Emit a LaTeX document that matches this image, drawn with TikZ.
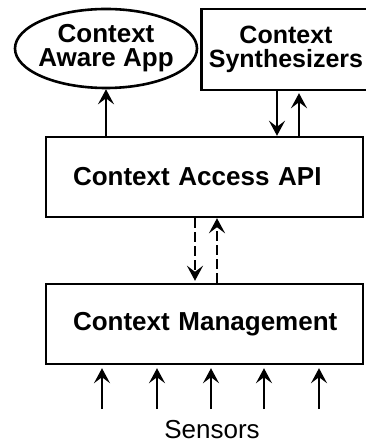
\documentclass[tikz,border=0pt]{standalone}
\usepackage{fontspec}
\setmainfont{Liberation Sans}
\usetikzlibrary{positioning}
\usetikzlibrary{calc}
\usetikzlibrary{arrows.meta}
\usetikzlibrary{shapes}

\begin{document}
\begin{tikzpicture}[x=1pt,y=1pt,node distance=147pt,on grid,>={Stealth[length=15pt,width=16pt,inset=6pt]},
		layer/.style={rectangle,draw=black,line width=2.4pt,minimum width=317pt,minimum height=80pt,inner xsep=27pt,text width=263pt,align=left,font=\fontsize{26}{24}\selectfont\bfseries},
		app/.style={ellipse,draw=black,line width=2.6pt,minimum width=182pt,minimum height=79pt,inner xsep=-4pt,inner ysep=0pt,align=center,font=\fontsize{26}{24}\selectfont\bfseries},
		synth/.style={rectangle,draw=black,line width=2.4pt,minimum width=169pt,minimum height=81pt,inner sep=0pt,align=center,font=\fontsize{25}{24}\selectfont\bfseries},
		flow/.style={->,line width=2.4pt},
		query/.style={->,line width=2.4pt,dash pattern=on 10pt off 4pt}]
		\useasboundingbox (0,0) rectangle (366,442);
		
		\node[layer]  (api)    at (204.5,265)     {\mbox{Context Access API}};
		\node[layer]  (mgmt)   [below=of api]     {\mbox{Context Management}};
		\node[app]    (ctxapp) at (106,393.5)     {Context\\Aware App};
		\node[synth]  (synth)  at (286,392.5)     {Context\\Synthesizers};
		\node[anchor=base,font=\fontsize{26}{24}\selectfont] (sensors) at (212,4) {Sensors};
		
		\path (synth.south) ++(-9,0) coordinate (s1) ++(22,0) coordinate (s2);
		\path (api.south) ++(-9.5,0) coordinate (q1) ++(22,0) coordinate (q2);
		
		\draw[flow] (api.north -| ctxapp.south) -- (ctxapp.south);
		\draw[flow] (s1) -- (s1 |- api.north);
		\draw[flow,shorten >=2pt] (s2 |- api.north) -- (s2);
		\draw[query,shorten >=2pt] (q1) -- (q1 |- mgmt.north);
		\draw[query] (q2 |- mgmt.north) -- (q2);
		
		\foreach \dx [count=\i] in {-102.5,-47.5,6.5,59.5,114.5}
			\draw[flow,line width=2pt,shorten >=3pt] ($(mgmt.south)+(\dx,-44)$) coordinate (in\i) -- (in\i |- mgmt.south);
\end{tikzpicture}
\end{document}
